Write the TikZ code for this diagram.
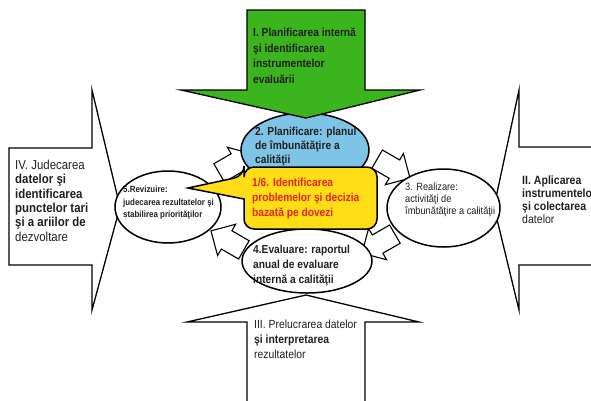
\documentclass[tikz,border=0pt]{standalone}
\usepackage{fontspec}
\setmainfont{Liberation Sans}[FakeStretch=0.88]
\usetikzlibrary{shapes.geometric,shapes.arrows}
\definecolor{grn}{RGB}{60,180,30}
\definecolor{sky}{RGB}{125,196,230}
\definecolor{yel}{RGB}{255,222,23}
\definecolor{redtxt}{RGB}{228,35,25}
\definecolor{dark}{RGB}{35,31,32}
\begin{document}
\begin{tikzpicture}[x=1pt,y=-1pt,
  bigarrow/.style={draw=black, fill=white, line width=1.3pt, line join=miter},
  greenarrow/.style={draw=black, fill=grn, line width=1.3pt, line join=miter},
  ell/.style={ellipse, draw=black, fill=white, line width=1.5pt, inner sep=0pt},
  smallarr/.style={single arrow, draw=black, fill=white, line width=1.1pt, inner sep=0pt, inner ysep=10pt, minimum height=38pt, single arrow head extend=7.5pt, line join=miter},
  lbl/.style={anchor=north west, inner sep=0pt, align=left, text=dark}
]
\clip (0,0) rectangle (591,400);
\fill[white] (0,0) rectangle (591,400);

% big white arrows
\draw[bigarrow] (9,148) -- (92,148) -- (92,90) -- (120,207) -- (92,310) -- (92,265) -- (9,265) -- cycle;
\draw[bigarrow] (605,147) -- (519,147) -- (519,90) -- (494,207) -- (519,310) -- (519,265) -- (605,265) -- cycle;
\draw[bigarrow] (247,410) -- (247,322) -- (187,322) -- (306,295) -- (419,322) -- (365,322) -- (365,410) -- cycle;

% small cycle arrows
\node[smallarr, rotate=-30] (a23) at (389,166) {};
\node[smallarr, rotate=210] (a34) at (383,241) {};
\node[smallarr, rotate=150] (a45) at (232,243) {};
\node[smallarr, rotate=30] (a52) at (231,166) {};

% ellipses
\node[ell, minimum width=113pt, minimum height=78pt] (e3) at (443.5,208) {};
\node[ell, minimum width=130pt, minimum height=64pt] (e4) at (307,261) {};
\node[ell, minimum width=106pt, minimum height=72pt] (e5) at (168,207) {};
\node[ell, fill=sky, minimum width=128pt, minimum height=74pt] (e2) at (305,150) {};

% green arrow
\draw[greenarrow] (247,10) -- (365,10) -- (365,90) -- (420,90) -- (306,118) -- (181,90) -- (247,90) -- cycle;

% yellow callout
\draw[fill=yel, line width=1.5pt, rounded corners=10pt] (244,199) -- (244,229) -- (377,229) -- (377,167) -- (244,167) -- (244,176) [sharp corners] -- (188,188) -- cycle;

% texts
\node[lbl, font=\fontsize{11.6}{15.6}\selectfont\bfseries] (t1) at (253,28)
  {I. Planificarea internă\\ şi identificarea\\ instrumentelor\\ evaluării};
\node[lbl, font=\fontsize{11.6}{14}\selectfont\bfseries] (t2) at (255,126.5)
  {2. Planificare: planul\\ de îmbunătăţire a\\ calităţii};
\node[lbl, text=redtxt, font=\fontsize{11.6}{15}\selectfont\bfseries] (t16) at (252,177.5)
  {1/6. Identificarea\\ problemelor şi decizia\\ bazată pe dovezi};
\node[lbl, font=\fontsize{11.6}{15}\selectfont\bfseries] (t4) at (253,244.5)
  {4.Evaluare: raportul\\ anual de evaluare\\ internă a calităţii};
\node[lbl, font=\fontsize{10.5}{12}\selectfont] (t3) at (405,183)
  {3. Realizare:\\ activităţi de\\ îmbunătăţire a calităţii};
\node[lbl, font=\fontsize{9}{12.5}\selectfont\bfseries] (t5) at (123,186)
  {5.Revizuire:\\ judecarea rezultatelor şi\\ stabilirea priorităţilor};
\node[lbl, font=\fontsize{13}{14.3}\selectfont] (tIV) at (15,160)
  {IV. Judecarea\\ \textbf{datelor şi}\\ \textbf{identificarea}\\ \textbf{punctelor tari}\\ \textbf{şi a ariilor de}\\ dezvoltare};
\node[lbl, font=\fontsize{12}{13}\selectfont] (tII) at (522,176)
  {\textbf{II. Aplicarea}\\ \textbf{instrumentelor}\\ \textbf{şi colectarea}\\ datelor};
\node[lbl, font=\fontsize{11.8}{15}\selectfont] (tIII) at (254,320)
  {III. Prelucrarea datelor\\ \textbf{şi interpretarea}\\ rezultatelor};
\end{tikzpicture}
\end{document}
